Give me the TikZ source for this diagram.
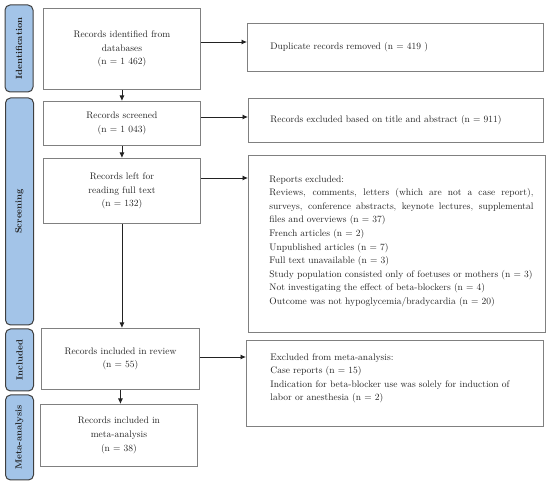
\documentclass[tikz,border=0pt]{standalone}
\usetikzlibrary{arrows.meta}
\definecolor{sidefill}{HTML}{A3C4E8}
\definecolor{sideline}{HTML}{3F3F3F}
\definecolor{boxline}{HTML}{808080}
\definecolor{ink}{HTML}{222222}
\begin{document}
\begin{tikzpicture}[x=1pt,y=-1pt,
  font=\fontsize{9.5}{13.6}\selectfont, text=ink,
  side/.style={draw=sideline, fill=sidefill, line width=1pt, rounded corners=5pt,
    inner sep=0pt, minimum height=28pt, rotate=90,
    font=\fontsize{9}{11}\selectfont\bfseries},
  box/.style={draw=boxline, line width=0.9pt, inner sep=0pt, align=center, anchor=north west},
  arr/.style={draw=ink, line width=0.8pt, -{Latex[length=5.5pt,width=5pt]}}
]
\useasboundingbox (0,0) rectangle (550,486);

% side bars
\node[side, minimum width=87pt]  (s1) at (19,48.5)  {Identification};
\node[side, minimum width=227pt] (s2) at (19.5,211.5) {Screening};
\node[side, minimum width=62pt]  (s3) at (19.5,360) {Included};
\node[side, minimum width=85pt]  (s4) at (19.5,437.5) {Meta-analysis};

% left column
\node[box, minimum width=157pt, minimum height=81pt] (idf) at (43,8)
  {Records identified from\\ databases\\ (n = 1 462)};
\node[box, minimum width=157pt, minimum height=44pt] (scr) at (43,101)
  {Records screened\\ (n = 1 043)};
\node[box, minimum width=157pt, minimum height=65pt] (lft) at (43,158)
  {Records left for\\ reading full text\\ (n = 132)};
\node[box, minimum width=158pt, minimum height=61pt] (inc) at (41,328)
  {Records included in review\\ (n = 55)};
\node[box, minimum width=157pt, minimum height=62pt] (met) at (40,404)
  {Records included in\\ meta-analysis\\ (n = 38)};

% right column
\node[box, align=left] (dup) at (247,23)
  {\parbox[c][48pt][c]{296pt}{\leftskip=23pt\rightskip=12pt
   Duplicate records removed (n = 419 )}};
\node[box, align=left] (exc) at (248,98)
  {\parbox[c][44pt][c]{295pt}{\leftskip=22pt\rightskip=12pt
   Records excluded based on title and abstract (n = 911)}};
\node[box, align=left] (rep) at (248,155)
  {\parbox[c][177pt][t]{297pt}{\vspace*{20pt}\leftskip=21pt\rightskip=12pt\parfillskip=0pt plus 1fil
   Reports excluded:\par
   Reviews, comments, letters (which are not a case report),\linebreak
   surveys, conference abstracts, keynote lectures, supplemental\linebreak
   files and overviews (n = 37)\par
   French articles (n = 2)\par
   Unpublished articles (n = 7)\par
   Full text unavailable (n = 3)\par
   Study population consisted only of foetuses or mothers (n = 3)\par
   Not investigating the effect of beta-blockers (n = 4)\par
   Outcome was not hypoglycemia/bradycardia (n = 20)\par}};
\node[box, align=left] (mex) at (246,340)
  {\parbox[c][86pt][t]{297pt}{\vspace*{13pt}\leftskip=24pt\rightskip=12pt plus 1fil
   Excluded from meta-analysis:\par
   Case reports (n = 15)\par
   Indication for beta-blocker use was solely for induction of\par
   labor or anesthesia (n = 2)\par}};

% helper coordinates for arrow heights
\coordinate (h1) at (0,42);
\coordinate (h2) at (0,117);
\coordinate (h3) at (0,178);
\coordinate (h4) at (0,357);

% horizontal arrows
\draw[arr] (idf.east |- h1) -- (dup.west |- h1);
\draw[arr] (scr.east |- h2) -- (exc.west |- h2);
\draw[arr] (lft.east |- h3) -- (rep.west |- h3);
\draw[arr] (inc.east |- h4) -- (mex.west |- h4);

% vertical arrows
\draw[arr] (idf.south) -- (idf.south |- scr.north);
\draw[arr] (scr.south) -- (scr.south |- lft.north);
\draw[arr] (lft.south) -- (lft.south |- inc.north);
\draw[arr] (inc.south) -- (inc.south |- met.north);
\end{tikzpicture}
\end{document}
